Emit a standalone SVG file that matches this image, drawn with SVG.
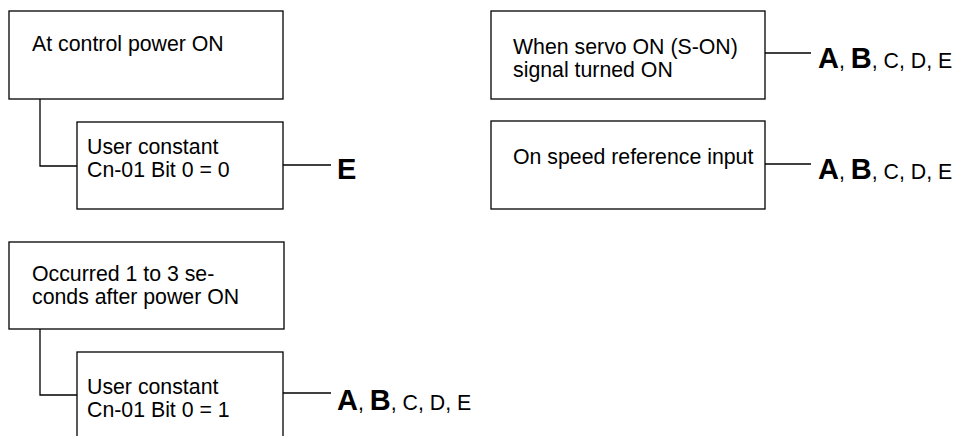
<svg xmlns="http://www.w3.org/2000/svg" width="964" height="436" viewBox="0 0 964 436">
<style>
.box{fill:#fff;stroke:#000;stroke-width:1.3}
.ln{fill:none;stroke:#000;stroke-width:1.3}
.t{font-family:"Liberation Sans",Arial,Helvetica,sans-serif;font-size:21.3px;fill:#000}
.b{font-weight:bold;font-size:29px}
</style>
<rect width="964" height="436" fill="#fff"/>
<g id="connectors">
<path class="ln" d="M40,99 V166 H77"/>
<path class="ln" d="M283,165 H331"/>
<path class="ln" d="M40,329 V395 H77"/>
<path class="ln" d="M283,393 H331"/>
<path class="ln" d="M765,53 H811"/>
<path class="ln" d="M765,164 H811"/>
</g>
<g id="n1"><rect class="box" x="9" y="11" width="274" height="88"/><text class="t" x="32" y="51">At control power ON</text></g>
<g id="n2"><rect class="box" x="77" y="122" width="206" height="87"/><text class="t" x="87" y="154">User constant</text><text class="t" x="87" y="177">Cn-01 Bit 0 = 0</text></g>
<g id="n3"><text class="t b" x="337" y="179">E</text></g>
<g id="n4"><rect class="box" x="9" y="242" width="275" height="87"/><text class="t" x="32" y="281">Occurred 1 to 3 se-</text><text class="t" x="32" y="304">conds after power ON</text></g>
<g id="n5"><rect class="box" x="77" y="352" width="206" height="90"/><text class="t" x="87" y="394">User constant</text><text class="t" x="87" y="417">Cn-01 Bit 0 = 1</text></g>
<g id="n6"><text class="t" x="337" y="410"><tspan class="b">A</tspan>, <tspan class="b">B</tspan>, C, D, E</text></g>
<g id="n7"><rect class="box" x="491" y="11" width="274" height="88"/><text class="t" x="513" y="54">When servo ON (S-ON)</text><text class="t" x="513" y="77">signal turned ON</text></g>
<g id="n8"><text class="t" x="818" y="68"><tspan class="b">A</tspan>, <tspan class="b">B</tspan>, C, D, E</text></g>
<g id="n9"><rect class="box" x="491" y="121" width="274" height="88"/><text class="t" x="513" y="164">On speed reference input</text></g>
<g id="n10"><text class="t" x="818" y="179"><tspan class="b">A</tspan>, <tspan class="b">B</tspan>, C, D, E</text></g>
</svg>
